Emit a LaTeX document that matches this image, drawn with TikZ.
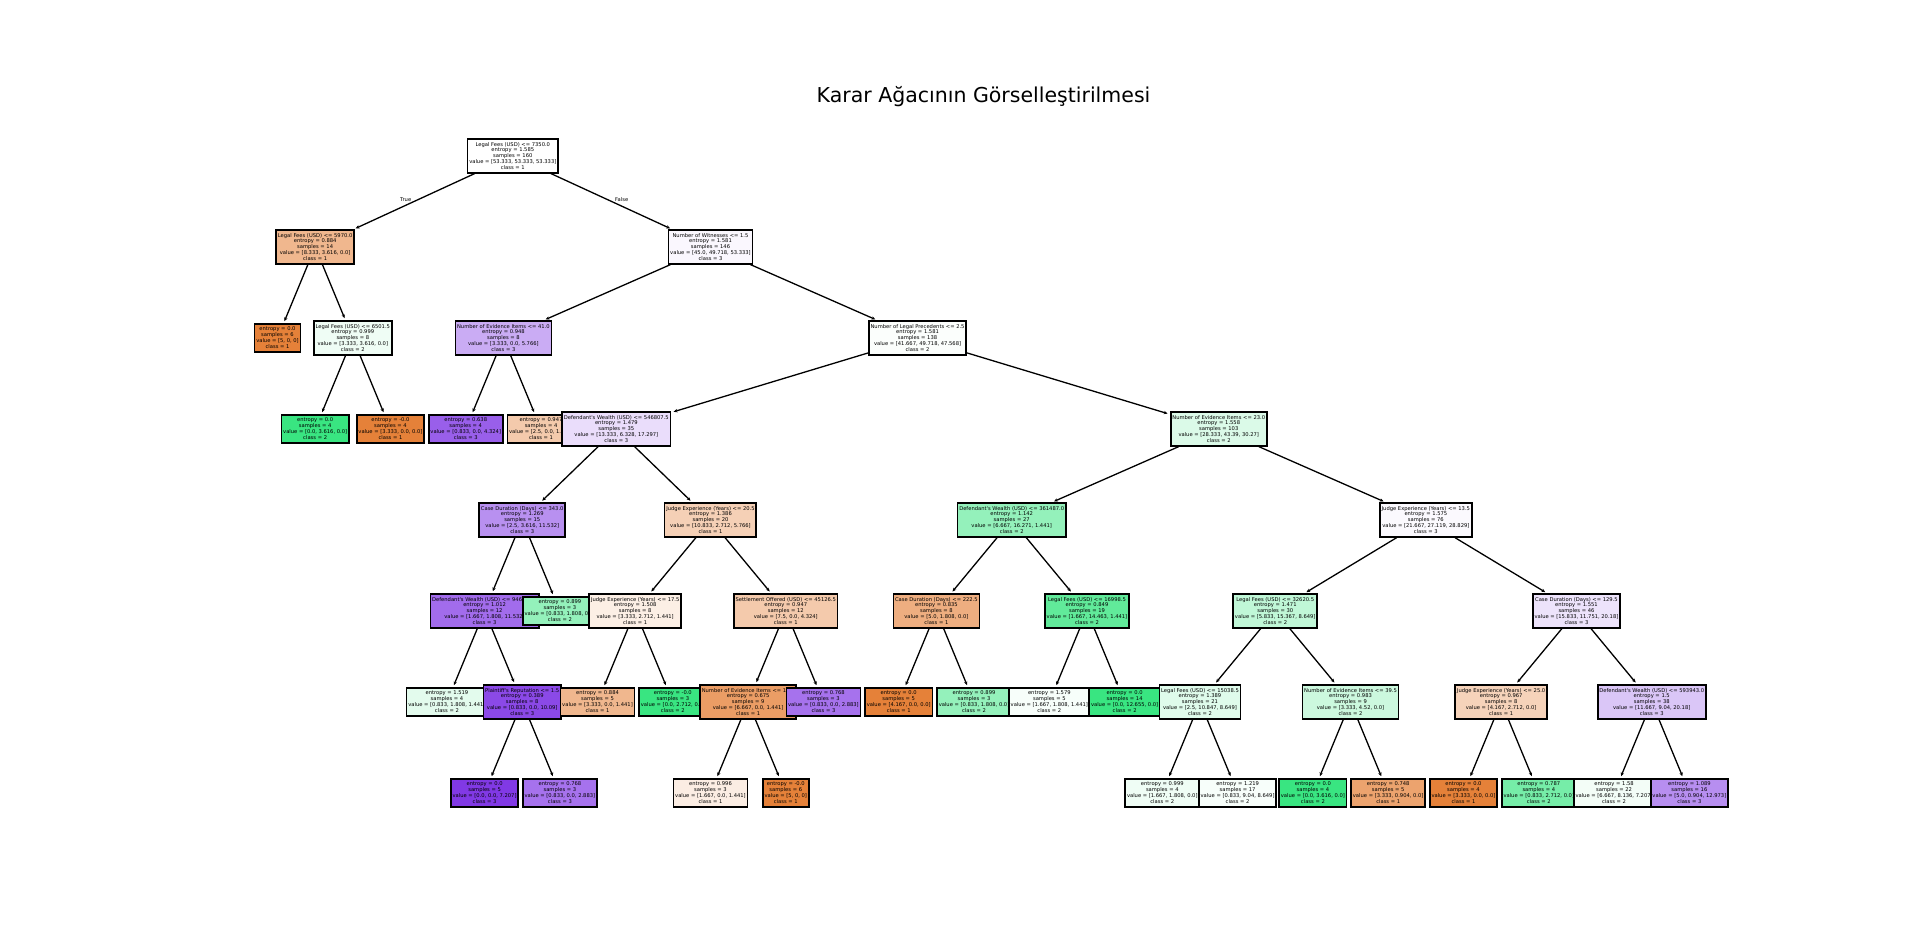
\documentclass[tikz,border=0pt]{standalone}
\usepackage{fontspec}
\setmainfont{DejaVu Sans}[Ligatures=TeXOff]
\usetikzlibrary{arrows.meta,backgrounds}
\definecolor{cO}{RGB}{229,129,57}
\definecolor{cG}{RGB}{57,229,129}
\definecolor{cP}{RGB}{129,57,229}
\tikzset{
  box/.style={draw=black, line width=1.7pt, align=center, inner xsep=1.7pt, inner ysep=1pt,
    font=\fontsize{5.2}{5.95}\selectfont, text=black},
  split/.style={box, minimum height=33.5pt},
  leaf/.style={box, minimum height=27.5pt},
  edge/.style={draw=black, line width=1.3pt, -{Stealth[length=3.8pt,width=3.4pt]}, shorten >=2.4pt},
  lbl/.style={font=\fontsize{5.2}{6}\selectfont, inner sep=0pt, text=black}
}
\begin{document}
\begin{tikzpicture}[x=1pt,y=1pt]
\useasboundingbox (0,0) rectangle (1919,-926);
\node[font=\fontsize{20.5}{24}\selectfont, anchor=base, inner sep=0pt] (title) at (983.5,-102.8) {Karar Ağacının Görselleştirilmesi};
% depth 7
\node[leaf, fill=cP] (B2a1a2a) at (484.58,-793) {entropy = 0.0\\samples = 5\\value = [0.0, 0.0, 7.207]\\class = 3};
\node[leaf, fill=cP!71!white] (B2a1a2b) at (559.88,-793) {entropy = 0.768\\samples = 3\\value = [0.833, 0.0, 2.883]\\class = 3};
\node[leaf, fill=cO!14!white] (B2a2b1a) at (710.48,-793) {entropy = 0.996\\samples = 3\\value = [1.667, 0.0, 1.441]\\class = 1};
\node[leaf, fill=cO] (B2a2b1b) at (785.78,-793) {entropy = -0.0\\samples = 6\\value = [5, 0, 0]\\class = 1};
\node[leaf, fill=cG!8!white] (B2b2a1a) at (1162.28,-793) {entropy = 0.999\\samples = 4\\value = [1.667, 1.808, 0.0]\\class = 2};
\node[leaf, fill=cG!4!white] (B2b2a1b) at (1237.58,-793) {entropy = 1.219\\samples = 17\\value = [0.833, 9.04, 8.649]\\class = 2};
\node[leaf, fill=cG] (B2b2a2a) at (1312.88,-793) {entropy = 0.0\\samples = 4\\value = [0.0, 3.616, 0.0]\\class = 2};
\node[leaf, fill=cO!73!white] (B2b2a2b) at (1388.18,-793) {entropy = 0.748\\samples = 5\\value = [3.333, 0.904, 0.0]\\class = 1};
\node[leaf, fill=cO] (B2b2b1a) at (1463.48,-793) {entropy = 0.0\\samples = 4\\value = [3.333, 0.0, 0.0]\\class = 1};
\node[leaf, fill=cG!69!white] (B2b2b1b) at (1538.78,-793) {entropy = 0.787\\samples = 4\\value = [0.833, 2.712, 0.0]\\class = 2};
\node[leaf, fill=cG!6!white] (B2b2b2a) at (1614.08,-793) {entropy = 1.58\\samples = 22\\value = [6.667, 8.136, 7.207]\\class = 2};
\node[leaf, fill=cP!57!white] (B2b2b2b) at (1689.38,-793) {entropy = 1.089\\samples = 16\\value = [5.0, 0.904, 12.973]\\class = 3};
% depth 6
\node[leaf, fill=cG!14!white] (B2a1a1) at (446.93,-702) {entropy = 1.519\\samples = 4\\value = [0.833, 1.808, 1.441]\\class = 2};
\node[split, fill=cP!92!white] (B2a1a2) at (522.23,-702) {Plaintiff's Reputation <= 1.5\\entropy = 0.389\\samples = 8\\value = [0.833, 0.0, 10.09]\\class = 3};
\node[leaf, fill=cO!57!white] (B2a2a1) at (597.53,-702) {entropy = 0.884\\samples = 5\\value = [3.333, 0.0, 1.441]\\class = 1};
\node[leaf, fill=cG] (B2a2a2) at (672.83,-702) {entropy = -0.0\\samples = 3\\value = [0.0, 2.712, 0.0]\\class = 2};
\node[split, fill=cO!78!white] (B2a2b1) at (748.13,-702) {Number of Evidence Items <= 16.5\\entropy = 0.675\\samples = 9\\value = [6.667, 0.0, 1.441]\\class = 1};
\node[leaf, fill=cP!71!white] (B2a2b2) at (823.43,-702) {entropy = 0.768\\samples = 3\\value = [0.833, 0.0, 2.883]\\class = 3};
\node[leaf, fill=cO] (B2b1a1) at (898.73,-702) {entropy = 0.0\\samples = 5\\value = [4.167, 0.0, 0.0]\\class = 1};
\node[leaf, fill=cG!54!white] (B2b1a2) at (974.03,-702) {entropy = 0.899\\samples = 3\\value = [0.833, 1.808, 0.0]\\class = 2};
\node[leaf, fill=cG!4!white] (B2b1b1) at (1049.33,-702) {entropy = 1.579\\samples = 5\\value = [1.667, 1.808, 1.441]\\class = 2};
\node[leaf, fill=cG] (B2b1b2) at (1124.63,-702) {entropy = 0.0\\samples = 14\\value = [0.0, 12.655, 0.0]\\class = 2};
\node[split, fill=cG!16!white] (B2b2a1) at (1199.93,-702) {Legal Fees (USD) <= 15038.5\\entropy = 1.389\\samples = 21\\value = [2.5, 10.847, 8.649]\\class = 2};
\node[split, fill=cG!26!white] (B2b2a2) at (1350.53,-702) {Number of Evidence Items <= 39.5\\entropy = 0.983\\samples = 9\\value = [3.333, 4.52, 0.0]\\class = 2};
\node[split, fill=cO!35!white] (B2b2b1) at (1501.13,-702) {Judge Experience (Years) <= 25.0\\entropy = 0.967\\samples = 8\\value = [4.167, 2.712, 0.0]\\class = 1};
\node[split, fill=cP!29!white] (B2b2b2) at (1651.73,-702) {Defendant's Wealth (USD) <= 593943.0\\entropy = 1.5\\samples = 38\\value = [11.667, 9.04, 20.18]\\class = 3};
% depth 5
\node[split, fill=cP!74!white] (B2a1a) at (484.58,-611) {Defendant's Wealth (USD) <= 946581.0\\entropy = 1.012\\samples = 12\\value = [1.667, 1.808, 11.532]\\class = 3};
\node[leaf, fill=cG!54!white] (B2a1b) at (559.88,-611) {entropy = 0.899\\samples = 3\\value = [0.833, 1.808, 0.0]\\class = 2};
\node[split, fill=cO!13!white] (B2a2a) at (635.18,-611) {Judge Experience (Years) <= 17.5\\entropy = 1.508\\samples = 8\\value = [3.333, 2.712, 1.441]\\class = 1};
\node[split, fill=cO!42!white] (B2a2b) at (785.78,-611) {Settlement Offered (USD) <= 45126.5\\entropy = 0.947\\samples = 12\\value = [7.5, 0.0, 4.324]\\class = 1};
\node[split, fill=cO!64!white] (B2b1a) at (936.38,-611) {Case Duration (Days) <= 222.5\\entropy = 0.835\\samples = 8\\value = [5.0, 1.808, 0.0]\\class = 1};
\node[split, fill=cG!80!white] (B2b1b) at (1086.98,-611) {Legal Fees (USD) <= 16998.5\\entropy = 0.849\\samples = 19\\value = [1.667, 14.463, 1.441]\\class = 2};
\node[split, fill=cG!32!white] (B2b2a) at (1275.23,-611) {Legal Fees (USD) <= 32620.5\\entropy = 1.471\\samples = 30\\value = [5.833, 15.367, 8.649]\\class = 2};
\node[split, fill=cP!14!white] (B2b2b) at (1576.43,-611) {Case Duration (Days) <= 129.5\\entropy = 1.551\\samples = 46\\value = [15.833, 11.751, 20.18]\\class = 3};
% depth 4
\node[split, fill=cP!56!white] (B2a1) at (522.23,-520) {Case Duration (Days) <= 343.0\\entropy = 1.269\\samples = 15\\value = [2.5, 3.616, 11.532]\\class = 3};
\node[split, fill=cO!37!white] (B2a2) at (710.48,-520) {Judge Experience (Years) <= 20.5\\entropy = 1.386\\samples = 20\\value = [10.833, 2.712, 5.766]\\class = 1};
\node[split, fill=cG!54!white] (B2b1) at (1011.68,-520) {Defendant's Wealth (USD) <= 361487.0\\entropy = 1.142\\samples = 27\\value = [6.667, 16.271, 1.441]\\class = 2};
\node[split, fill=cP!3!white] (B2b2) at (1425.83,-520) {Judge Experience (Years) <= 13.5\\entropy = 1.575\\samples = 76\\value = [21.667, 27.119, 28.829]\\class = 3};
% depth 3
\node[leaf, fill=cG] (A2a) at (315.15,-429) {entropy = 0.0\\samples = 4\\value = [0.0, 3.616, 0.0]\\class = 2};
\node[leaf, fill=cO] (A2b) at (390.45,-429) {entropy = -0.0\\samples = 4\\value = [3.333, 0.0, 0.0]\\class = 1};
\node[leaf, fill=cP!81!white] (B1a) at (465.75,-429) {entropy = 0.638\\samples = 4\\value = [0.833, 0.0, 4.324]\\class = 3};
\node[leaf, fill=cO!42!white] (B1b) at (541.05,-429) {entropy = 0.947\\samples = 4\\value = [2.5, 0.0, 1.441]\\class = 1};
\node[split, fill=cP!17!white] (B2a) at (616.35,-429) {Defendant's Wealth (USD) <= 546807.5\\entropy = 1.479\\samples = 35\\value = [13.333, 6.328, 17.297]\\class = 3};
\node[split, fill=cG!18!white] (B2b) at (1218.75,-429) {Number of Evidence Items <= 23.0\\entropy = 1.558\\samples = 103\\value = [28.333, 43.39, 30.27]\\class = 2};
% depth 2
\node[leaf, fill=cO] (A1) at (277.5,-338) {entropy = 0.0\\samples = 6\\value = [5, 0, 0]\\class = 1};
\node[split, fill=cG!8!white] (A2) at (352.8,-338) {Legal Fees (USD) <= 6501.5\\entropy = 0.999\\samples = 8\\value = [3.333, 3.616, 0.0]\\class = 2};
\node[split, fill=cP!42!white] (B1) at (503.4,-338) {Number of Evidence Items <= 41.0\\entropy = 0.948\\samples = 8\\value = [3.333, 0.0, 5.766]\\class = 3};
\node[split, fill=cG!2!white] (B2) at (917.55,-338) {Number of Legal Precedents <= 2.5\\entropy = 1.581\\samples = 138\\value = [41.667, 49.718, 47.568]\\class = 2};
% depth 1
\node[split, fill=cO!57!white] (A) at (315.15,-247) {Legal Fees (USD) <= 5970.0\\entropy = 0.884\\samples = 14\\value = [8.333, 3.616, 0.0]\\class = 1};
\node[split, fill=cP!4!white] (B) at (710.48,-247) {Number of Witnesses <= 1.5\\entropy = 1.581\\samples = 146\\value = [45.0, 49.718, 53.333]\\class = 3};
% depth 0
\node[split, fill=white] (root) at (512.81,-156) {Legal Fees (USD) <= 7350.0\\entropy = 1.585\\samples = 160\\value = [53.333, 53.333, 53.333]\\class = 1};
\node[lbl] (truelbl) at (405.7,-200) {True};
\node[lbl] (falselbl) at (621.7,-200) {False};
\begin{pgfonlayer}{background}
\foreach \p/\c in {root/A, root/B, A/A1, A/A2, A2/A2a, A2/A2b, B/B1, B/B2, B1/B1a, B1/B1b,
  B2/B2a, B2/B2b, B2a/B2a1, B2a/B2a2, B2a1/B2a1a, B2a1/B2a1b, B2a1a/B2a1a1, B2a1a/B2a1a2,
  B2a1a2/B2a1a2a, B2a1a2/B2a1a2b, B2a2/B2a2a, B2a2/B2a2b, B2a2a/B2a2a1, B2a2a/B2a2a2,
  B2a2b/B2a2b1, B2a2b/B2a2b2, B2a2b1/B2a2b1a, B2a2b1/B2a2b1b, B2b/B2b1, B2b/B2b2,
  B2b1/B2b1a, B2b1/B2b1b, B2b1a/B2b1a1, B2b1a/B2b1a2, B2b1b/B2b1b1, B2b1b/B2b1b2,
  B2b2/B2b2a, B2b2/B2b2b, B2b2a/B2b2a1, B2b2a/B2b2a2, B2b2a1/B2b2a1a, B2b2a1/B2b2a1b,
  B2b2a2/B2b2a2a, B2b2a2/B2b2a2b, B2b2b/B2b2b1, B2b2b/B2b2b2, B2b2b1/B2b2b1a, B2b2b1/B2b2b1b,
  B2b2b2/B2b2b2a, B2b2b2/B2b2b2b}
  \draw[edge] (\p) -- (\c);
\end{pgfonlayer}
\end{tikzpicture}
\end{document}
